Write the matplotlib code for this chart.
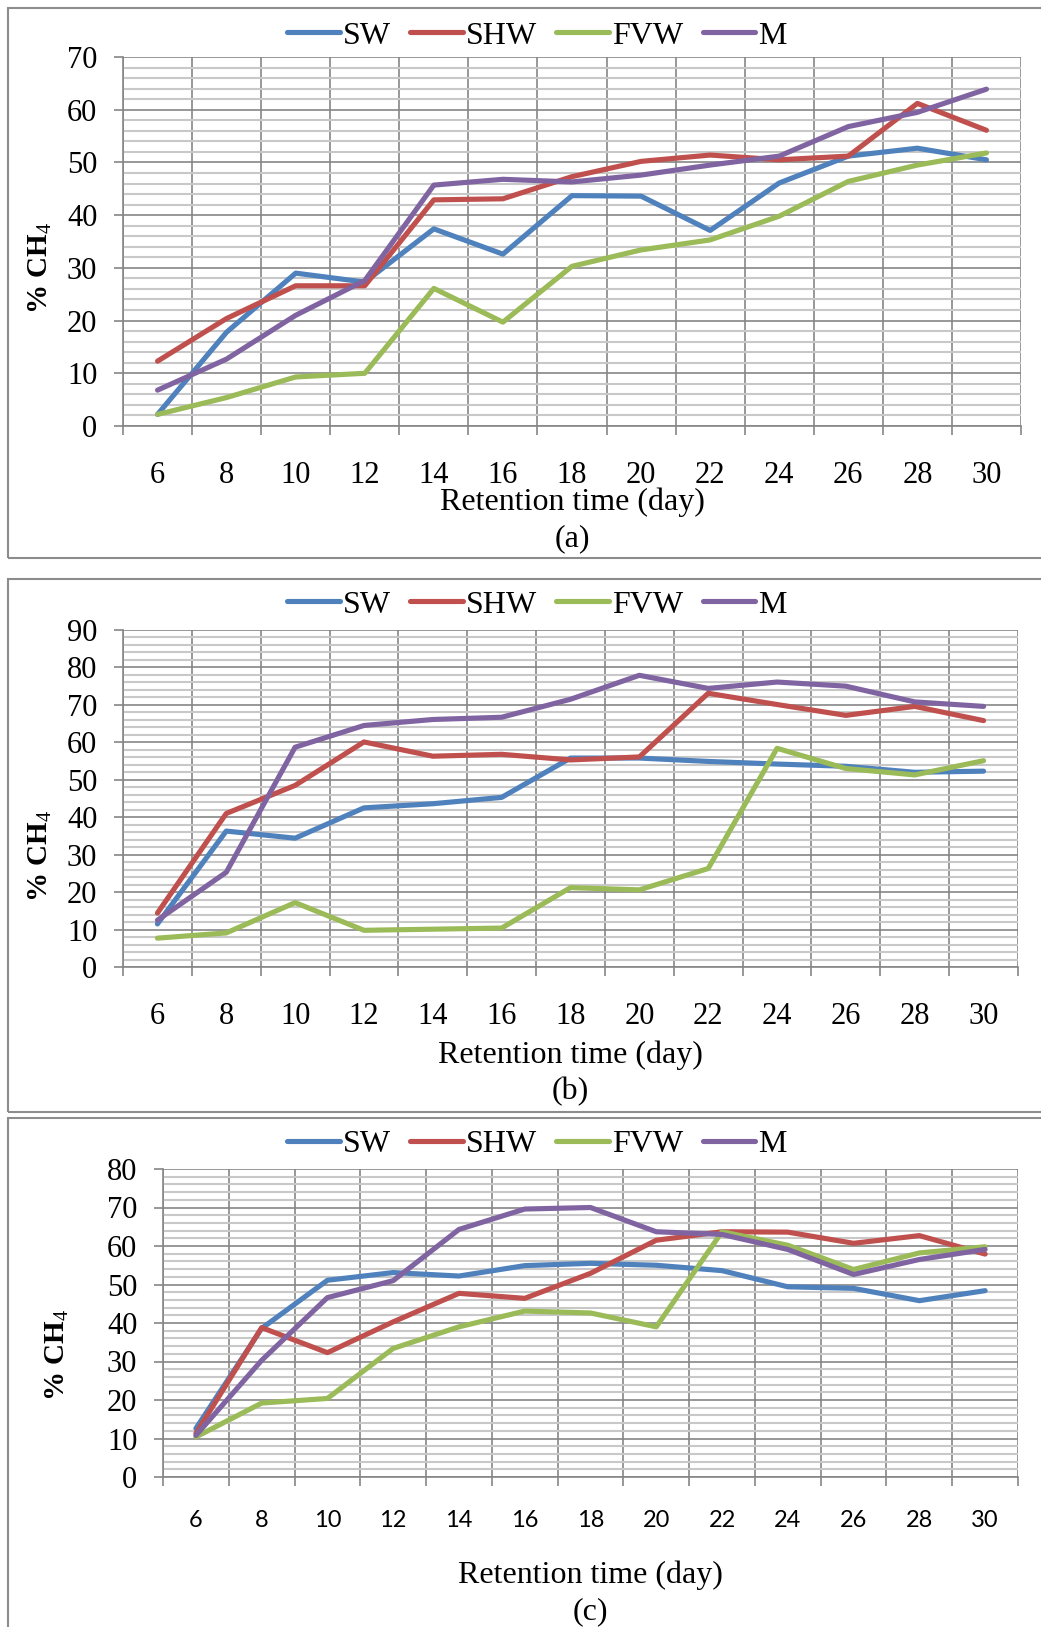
import matplotlib
matplotlib.use("Agg")
import matplotlib.pyplot as plt
from matplotlib.patches import Rectangle
import numpy as np

W, H = 1041, 1627

days = [6, 8, 10, 12, 14, 16, 18, 20, 22, 24, 26, 28, 30]
names = ["SW", "SHW", "FVW", "M"]
colors = ["#4F81BD", "#C0504D", "#9BBB59", "#8064A2"]

# panel (a)
a_sw = [2.2, 17.8, 29.0, 27.3, 37.4, 32.6, 43.7, 43.6, 37.1, 46.1, 51.2, 52.7, 50.5]
a_shw = [12.3, 20.4, 26.6, 26.6, 42.9, 43.1, 47.3, 50.2, 51.4, 50.5, 51.2, 61.2, 56.1]
a_fvw = [2.2, 5.4, 9.3, 10.0, 26.1, 19.7, 30.3, 33.4, 35.3, 39.8, 46.4, 49.5, 51.8]
a_m = [6.8, 12.7, 21.0, 27.6, 45.7, 46.8, 46.3, 47.6, 49.5, 51.2, 56.8, 59.5, 63.9]

# panel (b)
b_sw = [11.5, 36.3, 34.4, 42.5, 43.6, 45.3, 55.8, 55.8, 54.9, 54.2, 53.6, 52.0, 52.3]
b_shw = [14.4, 41.0, 48.5, 60.1, 56.3, 56.8, 55.3, 56.1, 73.1, 70.1, 67.2, 69.6, 65.8]
b_fvw = [7.7, 9.1, 17.2, 9.8, 10.1, 10.4, 21.2, 20.6, 26.3, 58.4, 53.0, 51.3, 55.1]
b_m = [12.5, 25.3, 58.7, 64.5, 66.1, 66.7, 71.5, 77.9, 74.4, 76.1, 75.0, 70.8, 69.6]

# panel (c)
c_sw = [12.6, 38.6, 51.1, 53.1, 52.2, 54.9, 55.5, 55.0, 53.6, 49.4, 49.0, 45.8, 48.4]
c_shw = [11.3, 38.8, 32.3, 40.3, 47.7, 46.4, 52.9, 61.5, 63.7, 63.6, 60.7, 62.7, 57.9]
c_fvw = [10.4, 19.2, 20.4, 33.4, 39.0, 43.1, 42.6, 39.0, 63.7, 60.2, 53.9, 58.2, 59.8]
c_m = [10.8, 30.3, 46.6, 51.0, 64.3, 69.6, 70.0, 63.7, 63.0, 59.1, 52.6, 56.5, 59.1]

plt.rcParams["font.family"] = "Liberation Serif"
plt.rcParams["mathtext.fontset"] = "custom"
plt.rcParams["mathtext.rm"] = "Liberation Serif"

GRID_DARK = "#868686"
GRID_LIGHT = "#C8C8C8"


def fx(px):
    return px / W


def fy(py):
    return 1 - py / H


def panel(fig, series, ymax, box, border, ylab_xy, xlab_y, cap, cap_y, leg_y,
          xfont="Liberation Serif", xsize=22, xpad=25):
    left, top, right, bottom = box
    ax = fig.add_axes([fx(left), fy(bottom), (right - left) / W, (bottom - top) / H])
    x = np.arange(len(days))
    for name, vals, c in zip(names, series, colors):
        ax.plot(x, vals, color=c, lw=3.7, label=name, zorder=3,
                solid_capstyle="round", solid_joinstyle="round")

    ax.set_xlim(-0.5, len(days) - 0.5)
    ax.set_ylim(0, ymax)
    ax.set_xticks(x)
    ax.set_xticklabels([str(d) for d in days], fontfamily=xfont, fontsize=xsize)
    ax.set_xticks(np.arange(-0.5, len(days)), minor=True)
    ax.set_yticks(np.arange(0, ymax + 1, 10))
    ax.set_yticks(np.arange(0, ymax + 1, 2), minor=True)
    ax.tick_params(axis="y", which="major", labelsize=22, length=6.5, width=1.2,
                   color=GRID_DARK, pad=12)
    ax.tick_params(axis="y", which="minor", length=0)
    ax.tick_params(axis="x", which="major", length=0, pad=xpad)
    ax.tick_params(axis="x", which="minor", length=6.5, width=1.2, color=GRID_DARK)

    ax.grid(which="minor", axis="y", color=GRID_LIGHT, lw=1.5)
    ax.grid(which="major", axis="y", color=GRID_DARK, lw=1.2)
    ax.grid(which="minor", axis="x", color=GRID_DARK, lw=1.2)
    ax.set_axisbelow(True)
    for s in ["top", "right"]:
        ax.spines[s].set_visible(False)
    for s in ["left", "bottom"]:
        ax.spines[s].set_color(GRID_DARK)
        ax.spines[s].set_linewidth(1.2)

    xc = (left + right) / 2
    fig.text(fx(ylab_xy[0]), fy(ylab_xy[1]), "% CH$_{\\rm 4}$", rotation=90,
             ha="center", va="center", fontsize=21, fontweight="bold")
    fig.text(fx(xc), fy(xlab_y), "Retention time (day)", ha="center",
             va="center", fontsize=23)
    fig.text(fx(xc), fy(cap_y), cap, ha="center", va="center", fontsize=23)

    fig.legend(*ax.get_legend_handles_labels(), loc="center",
               bbox_to_anchor=(fx(537), fy(leg_y)), ncol=4, frameon=False,
               fontsize=23, handlelength=1.65, handletextpad=0.1,
               columnspacing=0.6)

    bt, bb = border
    fig.patches.append(Rectangle((fx(8), fy(bb)), (1050 - 8) / W, (bb - bt) / H,
                                 transform=fig.transFigure, fill=False,
                                 ec="#8C8C8C", lw=1.5))
    return ax


fig = plt.figure(figsize=(W / 100, H / 100), dpi=100)

panel(fig, [a_sw, a_shw, a_fvw, a_m], 70, (123, 57, 1021, 426), (8, 558),
      (40, 268), 502, "(a)", 539, 36)
panel(fig, [b_sw, b_shw, b_fvw, b_m], 90, (123, 630, 1018, 967), (579, 1112),
      (40, 856), 1055, "(b)", 1092, 605)
panel(fig, [c_sw, c_shw, c_fvw, c_m], 80, (163, 1169, 1018, 1477), (1118, 1640),
      (57, 1355), 1575, "(c)", 1612, 1144, xfont="Lato", xsize=17, xpad=24)

fig.savefig("out.png", dpi=100)
